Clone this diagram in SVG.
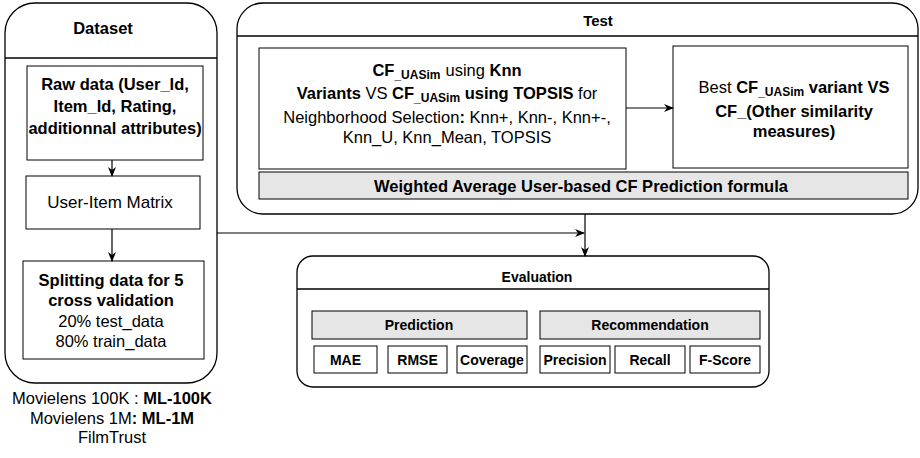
<svg xmlns="http://www.w3.org/2000/svg" width="920" height="458" viewBox="0 0 920 458">
<style>
text{font-family:"Liberation Sans",Arial,sans-serif;fill:#000;text-anchor:middle;dominant-baseline:central}
.b{font-weight:bold}
.box{fill:#fff;stroke:#000;stroke-width:1}
.gray{fill:#e6e6e6;stroke:#000;stroke-width:1}
.lane{fill:#fff;stroke:#000;stroke-width:1.3}
.edge{fill:none;stroke:#000;stroke-width:1.2}
.sub{font-size:12px;font-weight:bold}
</style>
<defs>
<marker id="arr" viewBox="0 0 10 10" refX="9" refY="5" markerWidth="10" markerHeight="10" markerUnits="userSpaceOnUse" orient="auto">
<path d="M0,1 L10,5 L0,9 L3,5 Z" fill="#000"/>
</marker>
</defs>

<g id="dataset">
<rect class="lane" x="5" y="3" width="212" height="380" rx="30"/>
<line x1="5" y1="58" x2="217" y2="58" stroke="#000" stroke-width="1.3"/>
<text class="b" x="103" y="28" font-size="16.5">Dataset</text>
</g>
<g id="rawdata">
<rect class="box" x="27" y="66" width="176" height="94"/>
<text class="b" font-size="16.5" x="115" y="84">Raw data (User_Id,</text>
<text class="b" font-size="16.5" x="115" y="106">Item_Id, Rating,</text>
<text class="b" font-size="16.5" x="115" y="128">additionnal attributes)</text>
</g>
<g id="matrix">
<rect class="box" x="26" y="176" width="174" height="53"/>
<text font-size="17" x="110" y="202">User-Item Matrix</text>
</g>
<g id="split">
<rect class="box" x="23" y="261" width="181" height="98"/>
<text class="b" font-size="16.5" x="111" y="280">Splitting data for 5</text>
<text class="b" font-size="16.5" x="111" y="300">cross validation</text>
<text font-size="16.5" x="111" y="321">20% test_data</text>
<text font-size="16.5" x="111" y="341">80% train_data</text>
</g>
<g id="datasets-note">
<text font-size="16.5" x="112" y="398">Movielens 100K : <tspan class="b">ML-100K</tspan></text>
<text font-size="16.5" x="112" y="418">Movielens 1M<tspan class="b">: ML-1M</tspan></text>
<text font-size="16.5" x="112" y="437">FilmTrust</text>
</g>

<g id="test">
<rect class="lane" x="237" y="3" width="681" height="211" rx="26"/>
<line x1="237" y1="36" x2="918" y2="36" stroke="#000" stroke-width="1.3"/>
<text class="b" x="598" y="20" font-size="15">Test</text>
</g>
<g id="knn-variants">
<rect class="box" x="259" y="48" width="367" height="121"/>
<text font-size="16.5" x="447" y="70"><tspan class="b">CF</tspan><tspan class="sub" dy="5">_UASim</tspan><tspan dy="-5" dx="5">using </tspan><tspan class="b">Knn</tspan></text>
<text font-size="16.5" x="447" y="93"><tspan class="b">Variants</tspan> VS <tspan class="b">CF</tspan><tspan class="sub" dy="5">_UASim</tspan><tspan class="b" dy="-5"> using TOPSIS</tspan> for</text>
<text font-size="16.5" x="447" y="117">Neighborhood Selection<tspan class="b">:</tspan> Knn+, Knn-, Knn+-,</text>
<text font-size="16.5" x="447" y="137">Knn_U, Knn_Mean, TOPSIS</text>
</g>
<g id="best-variant">
<rect class="box" x="673" y="46" width="235" height="122"/>
<text font-size="16.5" x="794" y="87">Best <tspan class="b">CF</tspan><tspan class="sub" dy="5">_UASim</tspan><tspan class="b" dy="-5"> variant VS</tspan></text>
<text class="b" font-size="16.5" x="794" y="111">CF_(Other similarity</text>
<text class="b" font-size="16.5" x="794" y="131">measures)</text>
</g>
<g id="weighted">
<rect class="gray" x="259" y="172" width="649" height="27"/>
<text class="b" font-size="16.5" x="581" y="186">Weighted Average User-based CF Prediction formula</text>
</g>

<g id="evaluation">
<rect class="lane" x="297" y="256" width="472" height="131" rx="16"/>
<line x1="297" y1="289" x2="769" y2="289" stroke="#000" stroke-width="1.3"/>
<text class="b" x="537" y="277" font-size="14">Evaluation</text>
</g>
<g id="prediction">
<rect class="gray" x="312" y="311" width="215" height="28"/>
<text class="b" font-size="14" x="419" y="325">Prediction</text>
</g>
<g id="recommendation">
<rect class="gray" x="540" y="311" width="220" height="28"/>
<text class="b" font-size="14" x="650" y="325">Recommendation</text>
</g>
<g id="mae"><rect class="box" x="314" y="346" width="63" height="27"/><text class="b" font-size="14" x="345.5" y="360">MAE</text></g>
<g id="rmse"><rect class="box" x="388" y="346" width="59" height="27"/><text class="b" font-size="14" x="417.5" y="360">RMSE</text></g>
<g id="coverage"><rect class="box" x="457" y="346" width="70" height="27"/><text class="b" font-size="14" x="492" y="360">Coverage</text></g>
<g id="precision"><rect class="box" x="540" y="346" width="70" height="27"/><text class="b" font-size="14" x="575" y="360">Precision</text></g>
<g id="recall"><rect class="box" x="615" y="346" width="70" height="27"/><text class="b" font-size="14" x="650" y="360">Recall</text></g>
<g id="fscore"><rect class="box" x="690" y="346" width="70" height="27"/><text class="b" font-size="14" x="725" y="360">F-Score</text></g>

<g id="connectors">
<line class="edge" x1="112" y1="160" x2="112" y2="176" marker-end="url(#arr)"/>
<line class="edge" x1="112" y1="229" x2="112" y2="261" marker-end="url(#arr)"/>
<line class="edge" x1="626" y1="108" x2="673" y2="108" marker-end="url(#arr)"/>
<line class="edge" x1="217" y1="233" x2="584" y2="233" marker-end="url(#arr)"/>
<line class="edge" x1="585" y1="214" x2="585" y2="256" marker-end="url(#arr)"/>
</g>
</svg>
